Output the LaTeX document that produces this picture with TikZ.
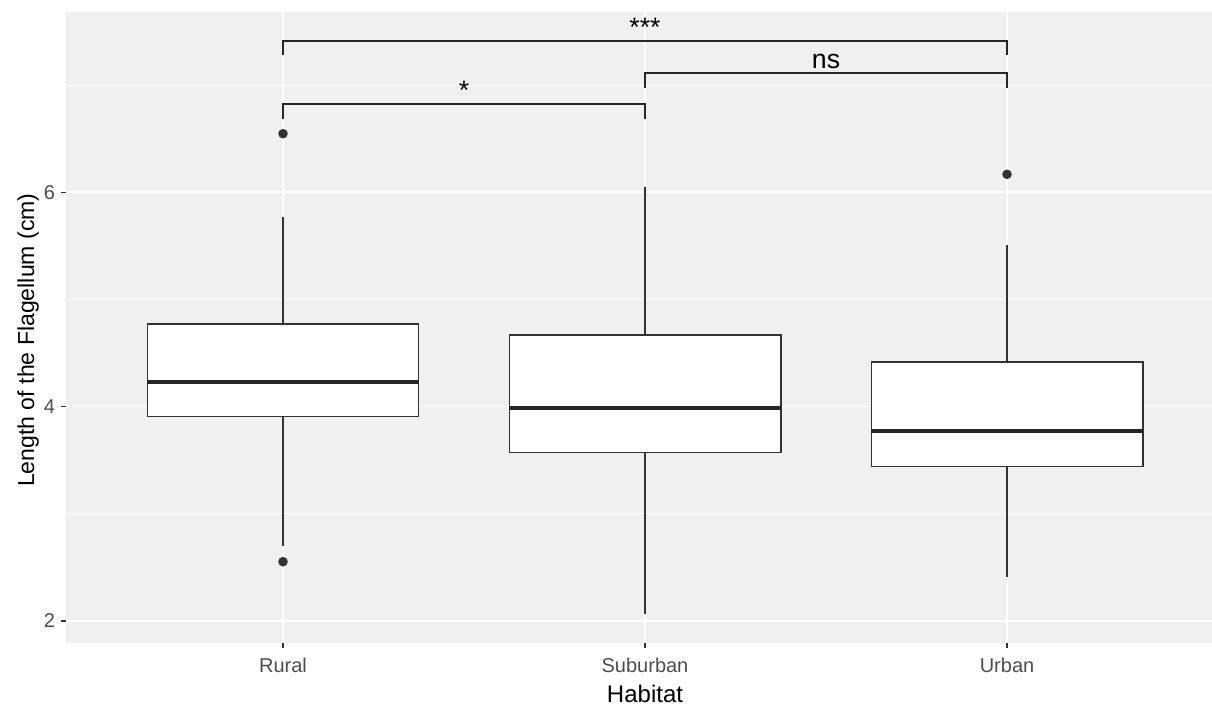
\documentclass[tikz,border=0pt]{standalone}
\usepackage{fontspec}
\setmainfont{Liberation Sans}
\usetikzlibrary{positioning}
\definecolor{panelbg}{RGB}{240,240,240}
\definecolor{boxline}{RGB}{51,51,51}
\definecolor{ticktext}{RGB}{77,77,77}

\begin{document}
\begin{tikzpicture}[x=271.5pt, y=80.4pt,
    boxcol/.style={draw=boxline, fill=white, line width=1.1pt},
    whisker/.style={draw=boxline, line width=1.1pt},
    medline/.style={draw=black!85, line width=2.4pt},
    brack/.style={draw=black!85, line width=1.1pt},
    sig/.style={anchor=base, inner sep=0pt, yshift=3.5pt, font=\fontsize{20}{20}\selectfont},
    ticklab/.style={anchor=base, inner sep=0pt, text=ticktext, font=\fontsize{15}{15}\selectfont},
    axtitle/.style={anchor=base, inner sep=0pt, font=\fontsize{18}{18}\selectfont}]
        \useasboundingbox (0.2182,1.207) rectangle (3.5663,7.793);
        % panel and grid
        \fill[panelbg] (0.4,1.795) rectangle (3.5663,7.681);
        \foreach \v in {3,5,7} \draw[white, line width=0.55pt] (0.4,\v) -- (3.5663,\v);
        \foreach \v in {2,4,6} \draw[white, line width=1.1pt] (0.4,\v) -- (3.5663,\v);
        \foreach \i in {1,2,3} \draw[white, line width=1.1pt] (\i,1.795) -- (\i,7.681);
        % boxes: group / whisker low / Q1 / median / Q3 / whisker high
        \foreach \i/\lo/\qa/\md/\qc/\hi in {1/2.700/3.906/4.229/4.770/5.771, 2/2.065/3.574/3.987/4.668/6.051, 3/2.410/3.439/3.772/4.416/5.507} {
            \draw[whisker] (\i,\lo) -- (\i,\qa) (\i,\qc) -- (\i,\hi);
            \draw[boxcol] (\i-0.375,\qa) rectangle (\i+0.375,\qc);
            \draw[medline] (\i-0.375,\md) -- (\i+0.375,\md);
        }
        \foreach \i/\v in {1/6.546, 1/2.553, 3/6.167} \fill[boxline] (\i,\v) circle[radius=3.6pt];
        % axes
        \foreach \v in {2,4,6} \draw[boxline, line width=0.8pt] (0.4,\v) -- ++(-3.4pt,0) node[anchor=east, inner sep=0pt, xshift=-4.4pt, text=ticktext, font=\fontsize{15}{15}\selectfont] {\v};
        \foreach \i/\lab in {1/Rural, 2/Suburban, 3/Urban} {
            \draw[boxline, line width=0.8pt] (\i,1.795) -- ++(0,-3.4pt);
            \node[ticklab] (lab\lab) at (\i,1.524) {\lab};
        }
        \node[axtitle] (xtitle) at (2,1.244) {Habitat};
        \node[axtitle, rotate=90, font=\fontsize{17.3}{17.3}\selectfont] (ytitle) at (0.3122,4.62) {Length of the Flagellum (cm)};
        % significance brackets
        \draw[brack] (1,7.280) -- (1,7.410) -- (3,7.410) -- (3,7.280);
        \draw[brack] (2,6.972) -- (2,7.112) -- (3,7.112) -- (3,6.972);
        \draw[brack] (1,6.683) -- (1,6.823) -- (2,6.823) -- (2,6.683);
        \node[sig] (sigRU) at (2,7.410) {***};
        \node[sig] (sigSU) at (2.5,7.112) {ns};
        \node[sig] (sigRS) at (1.5,6.823) {*};
    \end{tikzpicture}
\end{document}
